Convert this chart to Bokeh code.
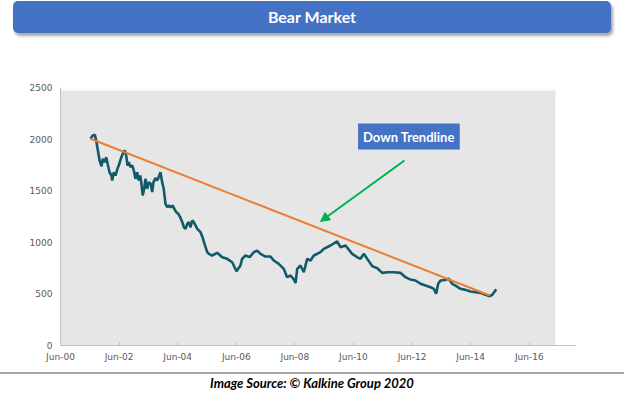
import pandas as pd
from bokeh.plotting import figure
from bokeh.models import (Range1d, FixedTicker, DatetimeTickFormatter, BoxAnnotation,
                          Arrow, NormalHead, Label, Div)
from bokeh.layouts import column
from bokeh.embed import file_html
from bokeh.resources import INLINE

# ---------------- data ----------------
dates = ["2001-06-10", "2001-07-08", "2001-08-03", "2001-08-20", "2001-09-14", "2001-10-01",
         "2001-10-25", "2001-11-11", "2001-12-05", "2001-12-23", "2002-01-12", "2002-02-02",
         "2002-02-27", "2002-03-07", "2002-03-27", "2002-04-17", "2002-05-12", "2002-05-28",
         "2002-06-23", "2002-07-17", "2002-08-11", "2002-08-29", "2002-09-14", "2002-09-30",
         "2002-10-21", "2002-11-12", "2002-12-02", "2002-12-23", "2003-01-13", "2003-02-02",
         "2003-02-20", "2003-03-07", "2003-03-23", "2003-04-10", "2003-04-26", "2003-05-17",
         "2003-06-06", "2003-07-01", "2003-07-19", "2003-08-04", "2003-08-29", "2003-09-19",
         "2003-10-09", "2003-10-30", "2003-11-20", "2003-12-10", "2004-01-01", "2004-01-22",
         "2004-02-11", "2004-03-07", "2004-04-01", "2004-04-18", "2004-05-14", "2004-06-08",
         "2004-07-02", "2004-07-28", "2004-08-17", "2004-09-07", "2004-09-28", "2004-10-18",
         "2004-11-08", "2004-11-29", "2004-12-19", "2005-01-31", "2005-03-13", "2005-04-06",
         "2005-05-01", "2005-06-04", "2005-06-24", "2005-08-05", "2005-10-06", "2005-12-08",
         "2006-02-08", "2006-04-11", "2006-06-04", "2006-07-23", "2006-08-13", "2006-09-24",
         "2006-11-16", "2007-01-05", "2007-02-17", "2007-03-30", "2007-06-01", "2007-08-02",
         "2007-09-12", "2007-11-13", "2008-01-14", "2008-02-25", "2008-04-08", "2008-05-19",
         "2008-06-09", "2008-06-30", "2008-08-10", "2008-09-20", "2008-11-01", "2008-12-13",
         "2009-01-23", "2009-04-16", "2009-05-27", "2009-08-19", "2009-11-10", "2009-12-21",
         "2010-02-22", "2010-05-16", "2010-07-17", "2010-08-27", "2010-10-08", "2011-01-21",
         "2011-03-25", "2011-05-26", "2011-07-26", "2011-10-17", "2012-01-08", "2012-03-10",
         "2012-05-12", "2012-07-13", "2012-09-14", "2012-11-15", "2013-01-17", "2013-02-27",
         "2013-03-28", "2013-04-22", "2013-05-21", "2013-07-23", "2013-09-02", "2013-10-14",
         "2013-11-24", "2014-01-26", "2014-03-29", "2014-05-30", "2014-07-31", "2014-10-01",
         "2014-12-03", "2015-01-26", "2015-02-25", "2015-04-06", "2015-04-15"]
values = [2003, 2035, 2041, 1987, 1873, 1793,
          1737, 1809, 1776, 1825, 1751, 1679,
          1647, 1599, 1679, 1647, 1712, 1744,
          1809, 1858, 1890, 1841, 1744, 1776,
          1728, 1744, 1696, 1615, 1679, 1599,
          1647, 1567, 1454, 1518, 1615, 1518,
          1583, 1567, 1486, 1583, 1622, 1599,
          1631, 1679, 1583, 1518, 1373, 1340,
          1357, 1340, 1357, 1325, 1292, 1276,
          1244, 1195, 1146, 1131, 1179, 1195,
          1146, 1211, 1195, 1131, 1098, 1049,
          985, 904, 888, 872, 898, 856,
          840, 807, 720, 775, 840, 872,
          856, 904, 920, 888, 862, 862,
          824, 791, 743, 662, 678, 640,
          605, 743, 775, 710, 840, 824,
          872, 904, 937, 969, 1008, 953,
          969, 888, 856, 840, 888, 769,
          749, 704, 710, 710, 704, 662,
          639, 630, 598, 581, 565, 549,
          501, 598, 630, 636, 646, 598,
          581, 549, 539, 523, 517, 510,
          491, 478, 491, 533, 545]

trend_dates = ["2001-06-10", "2015-01-26"]
trend_values = [2003, 485]

tick_years = [2000, 2002, 2004, 2006, 2008, 2010, 2012, 2014, 2016]
y_ticks = [0, 500, 1000, 1500, 2000, 2500]

title_text = "Bear Market"
note_text = "Down Trendline"
caption_text = "Image Source: \u00a9 Kalkine Group 2020"


def ms(s):
    return pd.Timestamp(s).value / 1e6


# ---------------- figure ----------------
p = figure(width=624, height=332, x_axis_type="datetime",
           x_range=Range1d(ms("2000-06-01"), ms("2017-12-29")),
           y_range=Range1d(0, 2500),
           output_backend="svg", toolbar_location=None,
           min_border_left=60, min_border_right=49, min_border_top=47, min_border_bottom=27)
p.margin = 0
p.outline_line_color = None
p.background_fill_color = "white"
p.border_fill_color = "white"
p.xgrid.visible = False
p.ygrid.visible = False

p.add_layout(BoxAnnotation(left=ms("2000-06-01"), right=ms("2017-04-23"), bottom=0, top=2470,
                           fill_color="#e6e6e6", fill_alpha=1, line_color=None, level="underlay"))

p.xaxis.ticker = FixedTicker(ticks=[ms(f"{y}-06-01") for y in tick_years])
fmt = "%b-%y"
p.xaxis.formatter = DatetimeTickFormatter(milliseconds=fmt, seconds=fmt, minsec=fmt, minutes=fmt,
                                          hourmin=fmt, hours=fmt, days=fmt, months=fmt, years=fmt)
p.yaxis.ticker = FixedTicker(ticks=y_ticks)

for ax in (p.xaxis[0], p.yaxis[0]):
    ax.axis_line_color = "#bfbfbf"
    ax.axis_line_width = 1
    ax.major_tick_line_color = "#bfbfbf"
    ax.minor_tick_line_color = None
    ax.major_label_text_font = "DejaVu Sans"
    ax.major_label_text_font_size = "9px"
    ax.major_label_text_color = "#595959"
p.xaxis.major_tick_in = 3
p.xaxis.major_tick_out = 0
p.xaxis.major_label_standoff = 6
p.yaxis.major_tick_in = 0
p.yaxis.major_tick_out = 0
p.yaxis.major_label_standoff = 8

p.line(pd.to_datetime(dates), values, line_color="#125a69", line_width=2.6)
p.line(pd.to_datetime(trend_dates), trend_values, line_color="#ed7d31", line_width=2)

green = "#00b050"
p.add_layout(Arrow(end=NormalHead(size=9, fill_color=green, line_color=green),
                   x_start=ms("2012-02-27"), y_start=1793, x_end=ms("2009-04-16"), y_end=1202,
                   line_color=green, line_width=2))

common = dict(x=ms("2012-04-22"), y=2025, text=note_text, text_align="center",
              text_baseline="middle", text_font="Lato", text_font_style="bold",
              text_font_size="13px", padding=5)
p.add_layout(Label(**common, text_alpha=0, background_fill_color="#808080",
                   background_fill_alpha=0.45, x_offset=2, y_offset=-2))
p.add_layout(Label(**common, text_color="white", background_fill_color="#4472c4"))

title_div = Div(
    text=(f'<div style="margin:1px 0 0 13px;width:598px;height:32px;background:#4472c4;'
          f'border-radius:5px;box-shadow:2px 3px 3px rgba(0,0,0,0.35);color:white;'
          f'font:bold 16px Lato;line-height:32px;text-align:center;">{title_text}</div>'),
    width=624, height=40, margin=0)

caption_div = Div(
    text=(f'<div style="width:624px;height:0;border-top:2px solid #a6a6a6;"></div>'
          f'<div style="width:624px;text-align:center;font:italic bold 13px Lato;color:#000;'
          f'line-height:18px;">{caption_text}</div>'),
    width=624, height=22, margin=0)

layout = column(title_div, p, caption_div, spacing=0)

open("out.html", "w").write(file_html(layout, INLINE))
